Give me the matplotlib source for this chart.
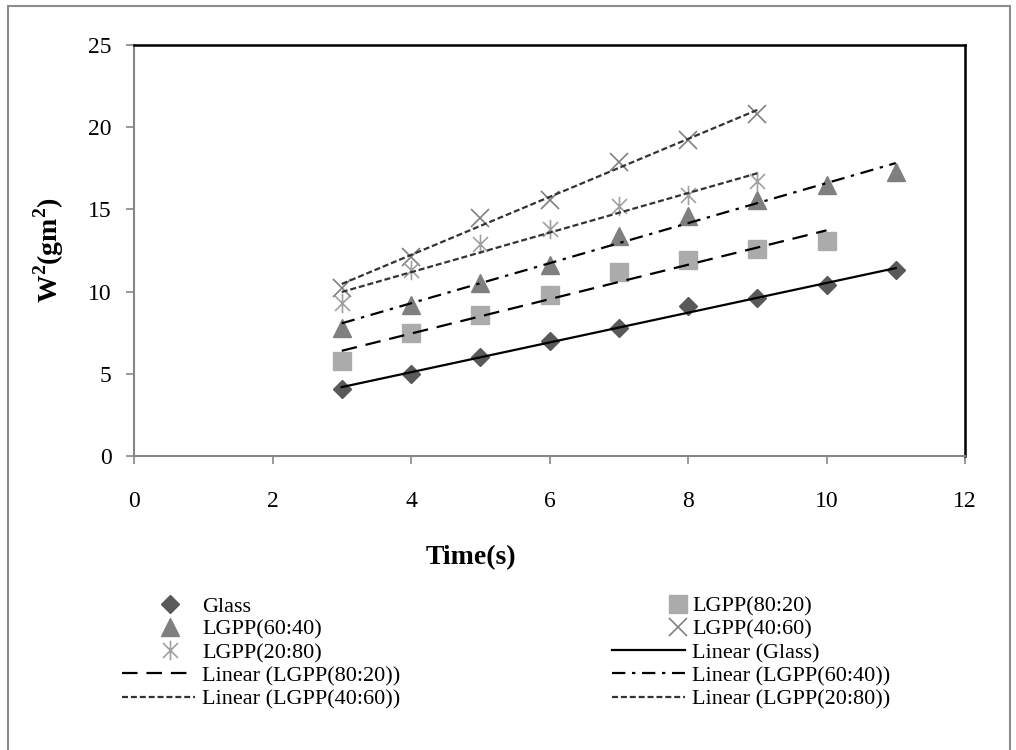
import numpy as np
import matplotlib
matplotlib.use("Agg")
import matplotlib.pyplot as plt
from matplotlib.path import Path
from matplotlib.patches import Rectangle
from matplotlib.legend_handler import HandlerLine2D

plt.rcParams['font.family'] = ['Liberation Serif', 'DejaVu Serif']
plt.rcParams['mathtext.fontset'] = 'custom'
plt.rcParams['mathtext.rm'] = 'Liberation Serif'
plt.rcParams['mathtext.bf'] = 'Liberation Serif:bold'

# Time (s) and W^2 measurements for each sample
time_glass = [3, 4, 5, 6, 7, 8, 9, 10, 11]
w2_glass = [4.1, 5.0, 6.0, 7.0, 7.8, 9.1, 9.6, 10.4, 11.3]

time_80_20 = [3, 4, 5, 6, 7, 8, 9, 10]
w2_80_20 = [5.8, 7.5, 8.6, 9.8, 11.2, 11.9, 12.6, 13.1]

time_60_40 = [3, 4, 5, 6, 7, 8, 9, 10, 11]
w2_60_40 = [7.8, 9.2, 10.5, 11.6, 13.4, 14.6, 15.6, 16.5, 17.3]

time_40_60 = [3, 4, 5, 6, 7, 8, 9]
w2_40_60 = [10.2, 12.1, 14.5, 15.6, 17.9, 19.2, 20.8]

time_20_80 = [3, 4, 5, 6, 7, 8, 9]
w2_20_80 = [9.3, 11.3, 12.9, 13.8, 15.2, 15.9, 16.7]

x_ticks = [0, 2, 4, 6, 8, 10, 12]
y_ticks = [0, 5, 10, 15, 20, 25]

# asterisk marker: two diagonals plus a vertical stroke
star_path = Path(
    [(-0.5, -0.5), (0.5, 0.5), (-0.5, 0.5), (0.5, -0.5), (0, -0.65), (0, 0.65)],
    [Path.MOVETO, Path.LINETO, Path.MOVETO, Path.LINETO, Path.MOVETO, Path.LINETO],
)

fig = plt.figure(figsize=(10.16, 7.5), dpi=100)
ax = fig.add_axes([134 / 1016, 1 - 456 / 750, (965 - 134) / 1016, (456 - 45) / 750])

dotted = (0, (2.7, 1.3))
series = [
    ("Glass", time_glass, w2_glass,
     dict(marker='D', ms=9, color='#595959', mec='#595959'),
     dict(ls='-', color='black')),
    ("LGPP(80:20)", time_80_20, w2_80_20,
     dict(marker='s', ms=13, color='#ababab', mec='#ababab'),
     dict(ls=(0, (7, 4)), color='black')),
    ("LGPP(60:40)", time_60_40, w2_60_40,
     dict(marker='^', ms=13, color='#7f7f7f', mec='#7f7f7f'),
     dict(ls=(0, (6, 3, 1.5, 3)), color='black')),
    ("LGPP(40:60)", time_40_60, w2_40_60,
     dict(marker='x', ms=13, color='#808080', mew=1.2),
     dict(ls=dotted, color='#333333')),
    ("LGPP(20:80)", time_20_80, w2_20_80,
     dict(marker=star_path, ms=14, color='#a0a0a0', mew=1.2),
     dict(ls=dotted, color='#333333')),
]

pt_handles, fit_handles = [], []
for name, t, w, mstyle, lstyle in series:
    t = np.asarray(t, float)
    w = np.asarray(w, float)
    h, = ax.plot(t, w, ls='none', label=name, zorder=3, **mstyle)
    pt_handles.append(h)
    slope, icpt = np.polyfit(t, w, 1)
    tt = np.array([t.min(), t.max()])
    f, = ax.plot(tt, slope * tt + icpt, lw=1.6, label=f"Linear ({name})",
                 zorder=4, **lstyle)
    fit_handles.append(f)

ax.set_xlim(0, 12)
ax.set_ylim(0, 25)
ax.set_xticks(x_ticks)
ax.set_yticks(y_ticks)
ax.tick_params(axis='both', direction='out', length=6, width=1.2, color='#868686',
               labelsize=17)
ax.tick_params(axis='x', pad=19)
ax.tick_params(axis='y', pad=10)
for side in ('left', 'bottom'):
    ax.spines[side].set_color('#868686')
    ax.spines[side].set_linewidth(1.5)
for side in ('top', 'right'):
    ax.spines[side].set_color('black')
    ax.spines[side].set_linewidth(1.8)

ax.set_xlabel('Time(s)', fontsize=20, fontweight='bold', labelpad=24, x=0.405)
ax.set_ylabel(r'W$^{\mathbf{2}}$(gm$^{\mathbf{2}}$)', fontsize=20, fontweight='bold',
              labelpad=16)


class MarkerShiftHandler(HandlerLine2D):
    """Draw the single legend marker at a chosen fraction of the handle length."""

    def __init__(self, frac, **kw):
        super().__init__(**kw)
        self.frac = frac

    def create_artists(self, legend, orig_handle, xdescent, ydescent, width, height,
                       fontsize, trans):
        arts = super().create_artists(legend, orig_handle, xdescent, ydescent, width,
                                      height, fontsize, trans)
        for a in arts:
            m = a.get_marker()
            if m not in (None, 'None', '', ' '):
                a.set_xdata([-xdescent + width * self.frac])
        return arts


# two legend columns, filled row by row
ordered = pt_handles + fit_handles
columns = [(ordered[0::2], 122, 0.66), (ordered[1::2], 612, 0.9)]
legs = []
for col_handles, x0, frac in columns:
    leg = fig.legend(col_handles, [h.get_label() for h in col_handles],
                     loc='upper left', bbox_to_anchor=(x0 / 1016, 1 - 596 / 750),
                     ncol=1, frameon=False, fontsize=16, numpoints=1,
                     handlelength=3.3, handletextpad=0.3, labelspacing=0.12,
                     borderpad=0, borderaxespad=0,
                     handler_map={h: MarkerShiftHandler(frac) for h in col_handles})
    legs.append(leg)

# chart area border
fig.add_artist(Rectangle((8 / 1016, -0.02), (1010 - 8) / 1016, 1.02 - 6 / 750,
                         transform=fig.transFigure, fill=False, ec='#8c8c8c', lw=1.5))

fig.savefig('out.png', dpi=100)
